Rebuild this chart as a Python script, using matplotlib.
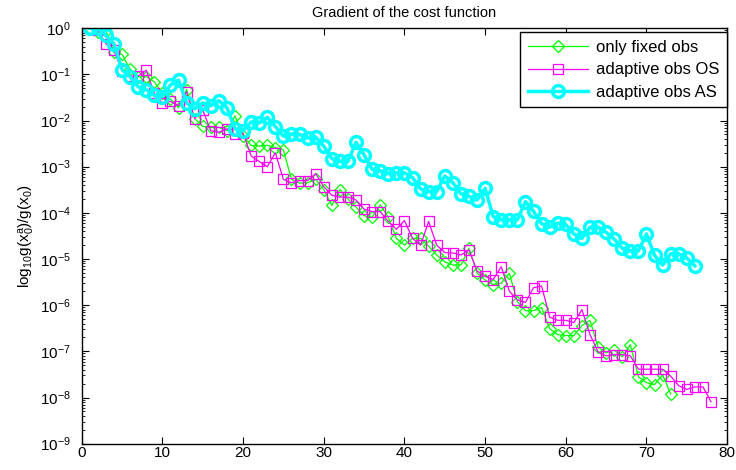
import numpy as np
import matplotlib
matplotlib.use("Agg")
import matplotlib.pyplot as plt
from matplotlib.ticker import LogLocator, NullFormatter

# only fixed obs
fixed_obs = [1.0, 0.82, 0.89, 0.30, 0.27, 0.13, 0.089, 0.089, 0.069, 0.039,
             0.029, 0.019, 0.047, 0.011, 0.0075, 0.0071, 0.0071, 0.006, 0.0126, 0.0046,
             0.0029, 0.0028, 0.0029, 0.0026, 0.0023, 5.3e-4, 4.4e-4, 4.5e-4, 5.3e-4, 3.2e-4,
             1.45e-4, 3.2e-4, 2.0e-4, 1.33e-4, 8.7e-5, 8.0e-5, 1.5e-4, 8.0e-5, 2.8e-5, 2.0e-5,
             2.8e-5, 2.8e-5, 1.9e-5, 1.22e-5, 8.7e-6, 7.4e-6, 7.4e-6, 1.7e-5, 5.0e-6, 3.5e-6,
             2.8e-6, 3.0e-6, 4.9e-6, 1.2e-6, 7.6e-7, 7.6e-7, 8.9e-7, 3.1e-7, 2.3e-7, 2.2e-7,
             2.2e-7, 3.6e-7, 4.7e-7, 1.24e-7, 9.3e-8, 1.06e-7, 7.6e-8, 1.4e-7, 2.8e-8, 2.1e-8,
             1.9e-8, 3.1e-8, 1.2e-8]

# adaptive obs OS
adaptive_os = [1.0, 0.92, 0.46, 0.33, 0.118, 0.092, 0.092, 0.123, 0.039, 0.024,
               0.026, 0.021, 0.042, 0.011, 0.017, 0.006, 0.0056, 0.0066, 0.005, 0.0054,
               0.0017, 0.0013, 0.001, 0.002, 5.3e-4, 4.5e-4, 5.0e-4, 5.0e-4, 7.1e-4, 3.7e-4,
               2.4e-4, 2.2e-4, 2.2e-4, 1.9e-4, 1.2e-4, 1.07e-4, 1.07e-4, 6.5e-5, 4.4e-5, 6.8e-5,
               2.8e-5, 2.0e-5, 6.5e-5, 2.0e-5, 1.38e-5, 1.35e-5, 1.22e-5, 1.58e-5, 5.5e-6, 4.2e-6,
               3.6e-6, 6.8e-6, 2.0e-6, 1.3e-6, 1.15e-6, 2.4e-6, 2.6e-6, 5.5e-7, 4.7e-7, 4.7e-7,
               4.2e-7, 8.0e-7, 2.3e-7, 9.8e-8, 8.0e-8, 8.5e-8, 8.5e-8, 8.0e-8, 4.1e-8, 4.1e-8,
               4.1e-8, 4.1e-8, 2.9e-8, 1.8e-8, 1.5e-8, 1.7e-8, 1.7e-8, 8.1e-9]

# adaptive obs AS
adaptive_as = [1.0, 1.0, 0.7, 0.46, 0.127, 0.089, 0.054, 0.047, 0.035, 0.033,
               0.059, 0.075, 0.024, 0.018, 0.024, 0.021, 0.027, 0.019, 0.0066, 0.006,
               0.0093, 0.0089, 0.0118, 0.0074, 0.0046, 0.0051, 0.005, 0.0042, 0.0044, 0.0028,
               0.0015, 0.0013, 0.0013, 0.0034, 0.0018, 8.8e-4, 8.1e-4, 7.1e-4, 7.4e-4, 7.4e-4,
               5.8e-4, 3.3e-4, 2.9e-4, 2.9e-4, 6.3e-4, 4.5e-4, 2.6e-4, 2.3e-4, 1.9e-4, 3.4e-4,
               8.3e-5, 7.1e-5, 7.1e-5, 7.1e-5, 1.75e-4, 1.08e-4, 5.8e-5, 4.9e-5, 6.0e-5, 5.6e-5,
               3.5e-5, 2.8e-5, 4.9e-5, 4.9e-5, 3.8e-5, 2.7e-5, 1.7e-5, 1.5e-5, 1.5e-5, 3.5e-5,
               1.2e-5, 7.4e-6, 1.3e-5, 1.3e-5, 1.05e-5, 7.1e-6]

plt.rcParams['font.family'] = ['Liberation Sans', 'DejaVu Sans']
plt.rcParams['mathtext.default'] = 'regular'
plt.rcParams['font.size'] = 11

fig = plt.figure(figsize=(7.36, 4.70), dpi=100)
ax = fig.add_axes([0.111, 0.056, 0.877, 0.884])

x1 = np.arange(1, len(fixed_obs) + 1)
x2 = np.arange(1, len(adaptive_os) + 1)
x3 = np.arange(1, len(adaptive_as) + 1)

ax.semilogy(x1, fixed_obs, '-', color='#00ff00', lw=0.9, marker='D', ms=6,
            mfc='none', mec='#00ff00', mew=0.9, label='only fixed obs')
ax.semilogy(x2, adaptive_os, '-', color='#ff00ff', lw=0.9, marker='s', ms=6.5,
            mfc='none', mec='#ff00ff', mew=0.9, label='adaptive obs OS')
ax.semilogy(x3, adaptive_as, '-', color='#00ffff', lw=2.5, marker='o', ms=8.5,
            mfc='none', mec='#00ffff', mew=2.5, label='adaptive obs AS')

ax.set_xlim(0, 80)
ax.set_ylim(1e-9, 1)
ax.set_xticks(np.arange(0, 81, 10))
ax.yaxis.set_major_locator(LogLocator(base=10, numticks=12))
ax.yaxis.set_minor_locator(LogLocator(base=10, subs=np.arange(2, 10), numticks=12))
ax.yaxis.set_minor_formatter(NullFormatter())
ax.tick_params(which='both', direction='in', top=True, right=True)
ax.tick_params(which='major', length=5)
ax.tick_params(which='minor', length=2.5)
ax.tick_params(axis='y', pad=8)
ax.tick_params(axis='x', pad=2)
for s in ax.spines.values():
    s.set_linewidth(1.0)

ax.set_title('Gradient of the cost function', fontsize=10.5, pad=8)
ax.set_ylabel('log$_{10}$g(x$_0^a$)/g(x$_0$)', labelpad=2)

leg = ax.legend(loc='upper right', bbox_to_anchor=(1.0, 0.99), fancybox=False,
                edgecolor='black', framealpha=1, borderaxespad=0, handlelength=3.6,
                fontsize=12, borderpad=0.45, labelspacing=0.45, handletextpad=0.5)
leg.get_frame().set_linewidth(1.0)

fig.savefig('out.png', dpi=100)
